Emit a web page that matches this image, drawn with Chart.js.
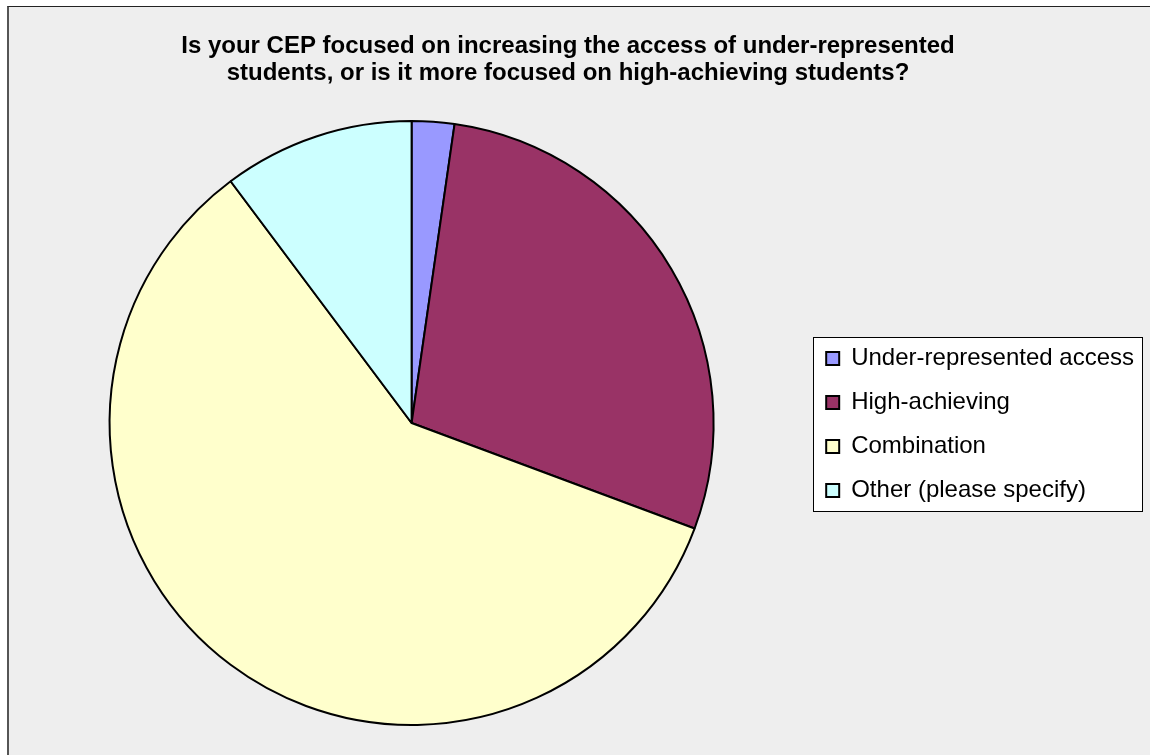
<!DOCTYPE html>
<html><head><meta charset="utf-8">
<script src="https://cdn.jsdelivr.net/npm/chart.js@4"></script>
<style>
html,body{margin:0;padding:0;background:#ffffff;width:1150px;height:755px;overflow:hidden;}
#frame{position:absolute;left:7px;top:6px;width:1141px;height:748px;background:#eeeeee;border-left:2px solid #555555;border-top:1px solid #222222;}
#wrap{position:absolute;left:0;top:0;width:1150px;height:755px;}
</style></head><body>
<div id="frame"></div>
<div id="wrap"><canvas id="c" width="1150" height="755"></canvas></div>
<script>
const titleLines = [
  'Is your CEP focused on increasing the access of under-represented',
  'students, or is it more focused on high-achieving students?'
];
const categories = ['Under-represented access', 'High-achieving', 'Combination', 'Other (please specify)'];
const values = [2, 25, 52, 9];
const sliceColors = ['#9999FF', '#993366', '#FFFFCC', '#CCFFFF'];

// Shift the title block so it is centred on the full plot frame rather than the canvas
const titleShift = {
  id: 'titleShift',
  afterLayout(chart) {
    const t = chart.titleBlock;
    if (t) { t.left -= 12.5; t.right -= 12.5; }
  }
};

const legendBox = {
  id: 'legendBox',
  beforeDraw(chart) {
    const lg = chart.legend;
    const hb = lg && lg.legendHitBoxes;
    if (!hb || !hb.length) return;
    const first = hb[0], last = hb[hb.length - 1];
    const left = Math.round(first.left - 13) + 0.5;
    const top = Math.round(first.top - 10) + 0.5;
    const bottom = Math.round(last.top + last.height + 8) + 0.5;
    const right = left + 329;
    const ctx = chart.ctx;
    ctx.save();
    ctx.fillStyle = '#ffffff';
    ctx.fillRect(left, top, right - left, bottom - top);
    ctx.strokeStyle = '#000000';
    ctx.lineWidth = 1;
    ctx.strokeRect(left, top, right - left, bottom - top);
    ctx.restore();
  }
};

new Chart(document.getElementById('c'), {
  type: 'pie',
  data: {
    labels: categories,
    datasets: [{
      data: values,
      backgroundColor: sliceColors,
      borderColor: '#000000',
      borderWidth: 2,
      hoverOffset: 0
    }]
  },
  options: {
    responsive: false,
    animation: false,
    events: [],
    radius: 302,
    layout: { padding: { left: 17, right: 6, top: 0, bottom: 8 } },
    plugins: {
      title: {
        display: true,
        text: titleLines,
        color: '#000000',
        font: { family: "'Liberation Sans', Arial, sans-serif", size: 24, weight: 'bold', lineHeight: 27 / 24 },
        padding: { top: 33, bottom: 12 }
      },
      legend: {
        display: true,
        position: 'right',
        align: 'center',
        title: {
          display: true,
          text: ' ',
          font: { size: 12, lineHeight: 1 },
          padding: { top: 90, bottom: 0 }
        },
        labels: {
          color: '#000000',
          font: { family: "'Liberation Sans', Arial, sans-serif", size: 24 },
          boxWidth: 13,
          boxHeight: 13,
          padding: 20
        }
      },
      tooltip: { enabled: false }
    }
  },
  plugins: [titleShift, legendBox]
});
</script>
</body></html>
